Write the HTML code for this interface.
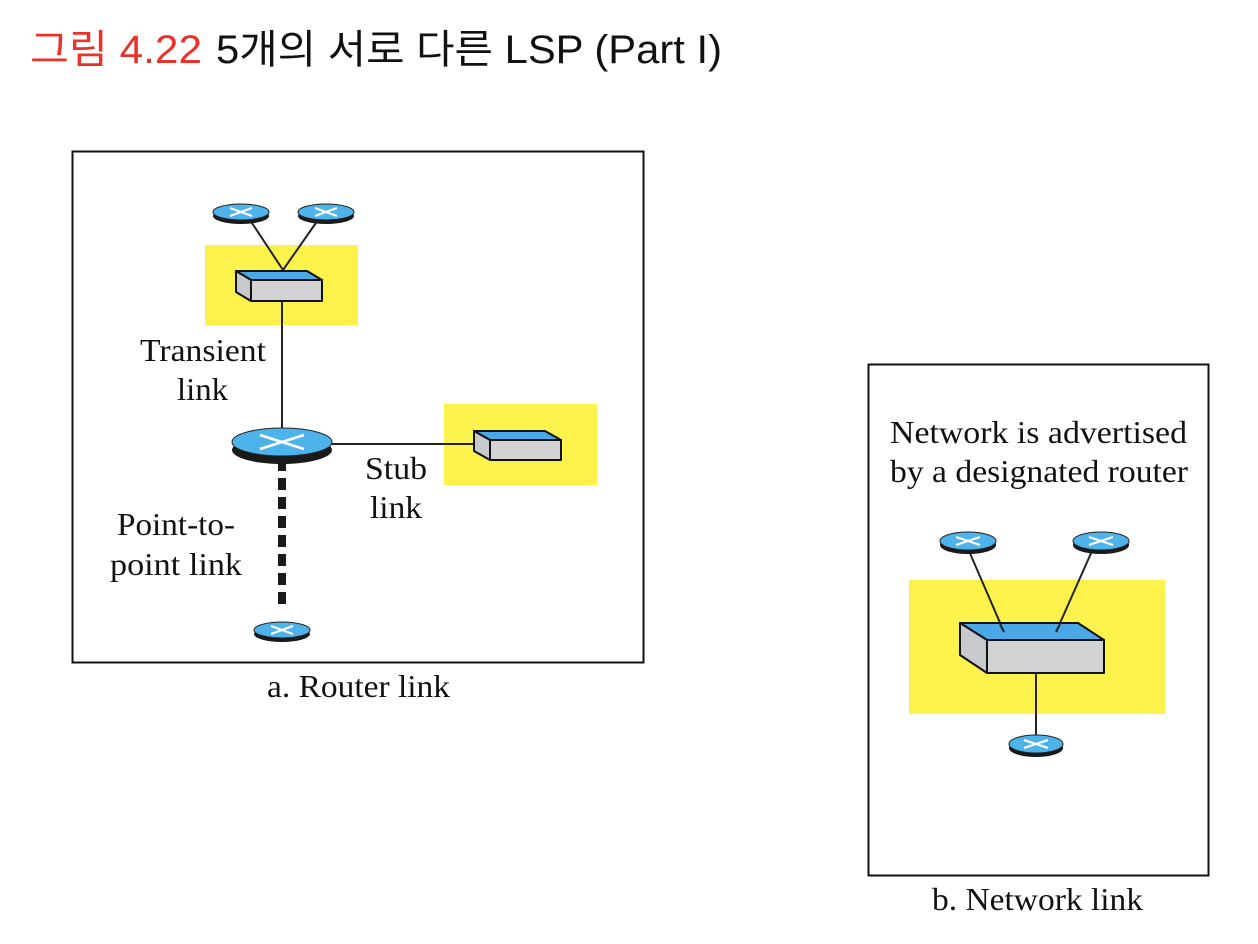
<!DOCTYPE html>
<html><head><meta charset="utf-8"><style>
body{margin:0;background:#fff;}
svg{display:block;}
.t{font-family:"Liberation Serif",serif;font-size:32px;fill:#111;}
</style></head><body>
<svg width="1258" height="944" viewBox="0 0 1258 944" xmlns="http://www.w3.org/2000/svg">
<text x="30" y="63" font-family="Liberation Sans,'Noto Sans CJK KR',sans-serif" font-size="40" fill="#e8322a" textLength="172" lengthAdjust="spacingAndGlyphs">그림 4.22</text>
<text x="216" y="63" font-family="Liberation Sans,'Noto Sans CJK KR',sans-serif" font-size="40" fill="#111" textLength="506" lengthAdjust="spacingAndGlyphs">5개의 서로 다른 LSP (Part I)</text>

<rect x="72.5" y="151.5" width="571" height="511" fill="none" stroke="#111" stroke-width="2"/>
<rect x="868.5" y="364.5" width="340" height="511" fill="none" stroke="#111" stroke-width="2"/>

<rect x="205" y="245" width="153" height="80" fill="#fcf24c"/>
<rect x="444" y="404" width="153" height="81" fill="#fcf24c"/>
<rect x="909" y="580" width="256" height="134" fill="#fcf24c"/>

<g stroke="#222" stroke-width="2">
<line x1="250" y1="220" x2="283" y2="270"/>
<line x1="318" y1="220" x2="283" y2="270"/>
<line x1="282" y1="301" x2="282" y2="432"/>
<line x1="330" y1="444" x2="476" y2="444"/>
<line x1="969" y1="551" x2="1004" y2="632"/>
<line x1="1092" y1="551" x2="1056" y2="632"/>
<line x1="1036" y1="673" x2="1036" y2="740"/>
</g>
<line x1="282" y1="452" x2="282" y2="610" stroke="#1a1a1a" stroke-width="8" stroke-dasharray="19 7 12 7 12 7 12 7 12 7 12 7 12 7 12 7 12 7"/>

<g stroke="#111" stroke-width="2" stroke-linejoin="round">
<polygon points="236,271 307,271 322,280 251,280" fill="#4aa8e6"/>
<polygon points="236,271 251,280 251,301 236,292" fill="#c8c9cc"/>
<rect x="251" y="280" width="71" height="21" fill="#d2d3d5"/>
<polygon points="474,431 545,431 561,440 490,440" fill="#4aa8e6"/>
<polygon points="474,431 490,440 490,460 474,451" fill="#c8c9cc"/>
<rect x="490" y="440" width="71" height="20" fill="#d2d3d5"/>
<polygon points="960,623 1078,623 1104,640 987,640" fill="#4aa8e6"/>
<polygon points="960,623 987,640 987,673 960,655" fill="#c8c9cc"/>
<rect x="987" y="640" width="117" height="33" fill="#d2d3d5"/>
</g>
<line x1="1000" y1="624" x2="1004" y2="632" stroke="#222" stroke-width="2"/>
<line x1="1060" y1="624" x2="1056" y2="632" stroke="#222" stroke-width="2"/>

<g>
<g transform="translate(241,212)">
<ellipse cx="0" cy="4" rx="28" ry="8" fill="#1a1a1a"/>
<ellipse cx="0" cy="0" rx="28" ry="8" fill="#4db3ea" stroke="#222" stroke-width="1"/>
<path d="M-11,-4 L11,4 M-11,4 L11,-4" stroke="#fff" stroke-width="2"/>
</g>
<g transform="translate(326,212)">
<ellipse cx="0" cy="4" rx="28" ry="8" fill="#1a1a1a"/>
<ellipse cx="0" cy="0" rx="28" ry="8" fill="#4db3ea" stroke="#222" stroke-width="1"/>
<path d="M-11,-4 L11,4 M-11,4 L11,-4" stroke="#fff" stroke-width="2"/>
</g>
<g transform="translate(282,630)">
<ellipse cx="0" cy="4" rx="28" ry="8" fill="#1a1a1a"/>
<ellipse cx="0" cy="0" rx="28" ry="8" fill="#4db3ea" stroke="#222" stroke-width="1"/>
<path d="M-11,-4 L11,4 M-11,4 L11,-4" stroke="#fff" stroke-width="2"/>
</g>
<g transform="translate(282,442)">
<ellipse cx="0" cy="8" rx="50" ry="14" fill="#1a1a1a"/>
<ellipse cx="0" cy="0" rx="50" ry="14" fill="#4db3ea" stroke="#222" stroke-width="1"/>
<path d="M-22,-7 L22,7 M-22,7 L22,-7" stroke="#fff" stroke-width="2.5"/>
</g>
<g transform="translate(968,541)">
<ellipse cx="0" cy="4" rx="28" ry="9" fill="#1a1a1a"/>
<ellipse cx="0" cy="0" rx="28" ry="9" fill="#4db3ea" stroke="#222" stroke-width="1"/>
<path d="M-12,-4 L12,4 M-12,4 L12,-4" stroke="#fff" stroke-width="2"/>
</g>
<g transform="translate(1101,541)">
<ellipse cx="0" cy="4" rx="28" ry="9" fill="#1a1a1a"/>
<ellipse cx="0" cy="0" rx="28" ry="9" fill="#4db3ea" stroke="#222" stroke-width="1"/>
<path d="M-12,-4 L12,4 M-12,4 L12,-4" stroke="#fff" stroke-width="2"/>
</g>
<g transform="translate(1036,744)">
<ellipse cx="0" cy="4" rx="27" ry="9" fill="#1a1a1a"/>
<ellipse cx="0" cy="0" rx="27" ry="9" fill="#4db3ea" stroke="#222" stroke-width="1"/>
<path d="M-12,-4 L12,4 M-12,4 L12,-4" stroke="#fff" stroke-width="2"/>
</g>
</g>

<text class="t" x="140" y="361" textLength="126" lengthAdjust="spacingAndGlyphs">Transient</text>
<text class="t" x="177" y="400" textLength="51" lengthAdjust="spacingAndGlyphs">link</text>
<text class="t" x="365" y="479" textLength="62" lengthAdjust="spacingAndGlyphs">Stub</text>
<text class="t" x="370" y="518" textLength="52" lengthAdjust="spacingAndGlyphs">link</text>
<text class="t" x="117" y="535" textLength="118" lengthAdjust="spacingAndGlyphs">Point-to-</text>
<text class="t" x="110" y="575" textLength="132" lengthAdjust="spacingAndGlyphs">point link</text>
<text class="t" x="267" y="697" textLength="183" lengthAdjust="spacingAndGlyphs">a. Router link</text>
<text class="t" x="890" y="443" textLength="297" lengthAdjust="spacingAndGlyphs">Network is advertised</text>
<text class="t" x="890" y="482" textLength="298" lengthAdjust="spacingAndGlyphs">by a designated router</text>
<text class="t" x="932" y="910" textLength="211" lengthAdjust="spacingAndGlyphs">b. Network link</text>
</svg>
</body></html>
